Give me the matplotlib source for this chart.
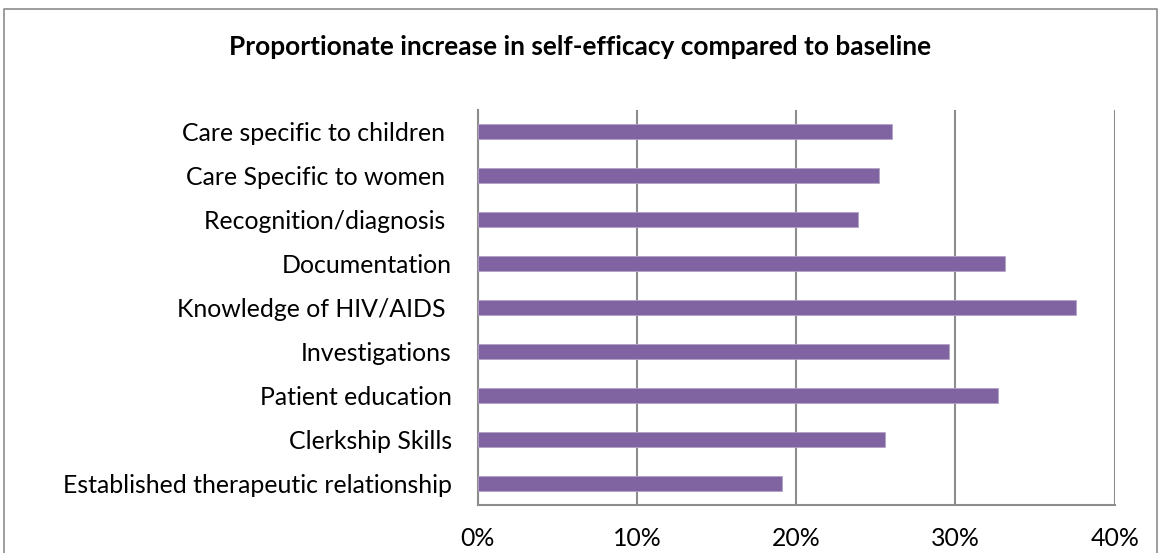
import matplotlib
matplotlib.use("Agg")
import matplotlib.pyplot as plt
from matplotlib.lines import Line2D
from matplotlib.ticker import PercentFormatter

# categories listed bottom to top, as drawn by barh
categories = [
    "Established therapeutic relationship",
    "Clerkship Skills",
    "Patient education",
    "Investigations",
    "Knowledge of HIV/AIDS ",
    "Documentation",
    "Recognition/diagnosis ",
    "Care Specific to women ",
    "Care specific to children ",
]
increase = [19.1, 25.6, 32.7, 29.6, 37.6, 33.1, 23.9, 25.2, 26.0]
x_ticks = [0, 10, 20, 30, 40]

plt.rcParams['font.family'] = ['Lato', 'DejaVu Sans']

fig = plt.figure(figsize=(11.61, 5.53), dpi=100)
ax = fig.add_axes([0.4115, 0.0863, 0.5486, 0.7153])

ax.barh(range(len(categories)), increase, height=0.34, color='#8064A2',
        edgecolor='#B3A2C7', linewidth=0.6, zorder=3)

ax.set_xlim(0, 40)
ax.set_ylim(-0.5, len(categories) - 0.5)
ax.set_xticks(x_ticks)
ax.xaxis.set_major_formatter(PercentFormatter(decimals=0))
ax.set_yticks(range(len(categories)))
ax.set_yticklabels(categories)
ax.tick_params(axis='both', length=0, labelsize=17.9, colors='black')
ax.tick_params(axis='x', pad=15.5)
ax.tick_params(axis='y', pad=18.7)

ax.grid(axis='x', color='#8c8c8c', linewidth=1.5, zorder=0)
for side in ['top', 'right']:
    ax.spines[side].set_visible(False)
for side in ['left', 'bottom']:
    ax.spines[side].set_color('#8c8c8c')
    ax.spines[side].set_linewidth(1.5)

fig.text(0.5, 0.915, "Proportionate increase in self-efficacy compared to baseline",
         ha='center', va='center', fontsize=18.9, fontweight='bold')

# outer chart border
fig.add_artist(Line2D([0.0035, 0.0035, 0.9965, 0.9965], [0, 0.984, 0.984, 0],
                      transform=fig.transFigure, color='#8c8c8c', linewidth=1.2))

fig.savefig("out.png", dpi=100)
